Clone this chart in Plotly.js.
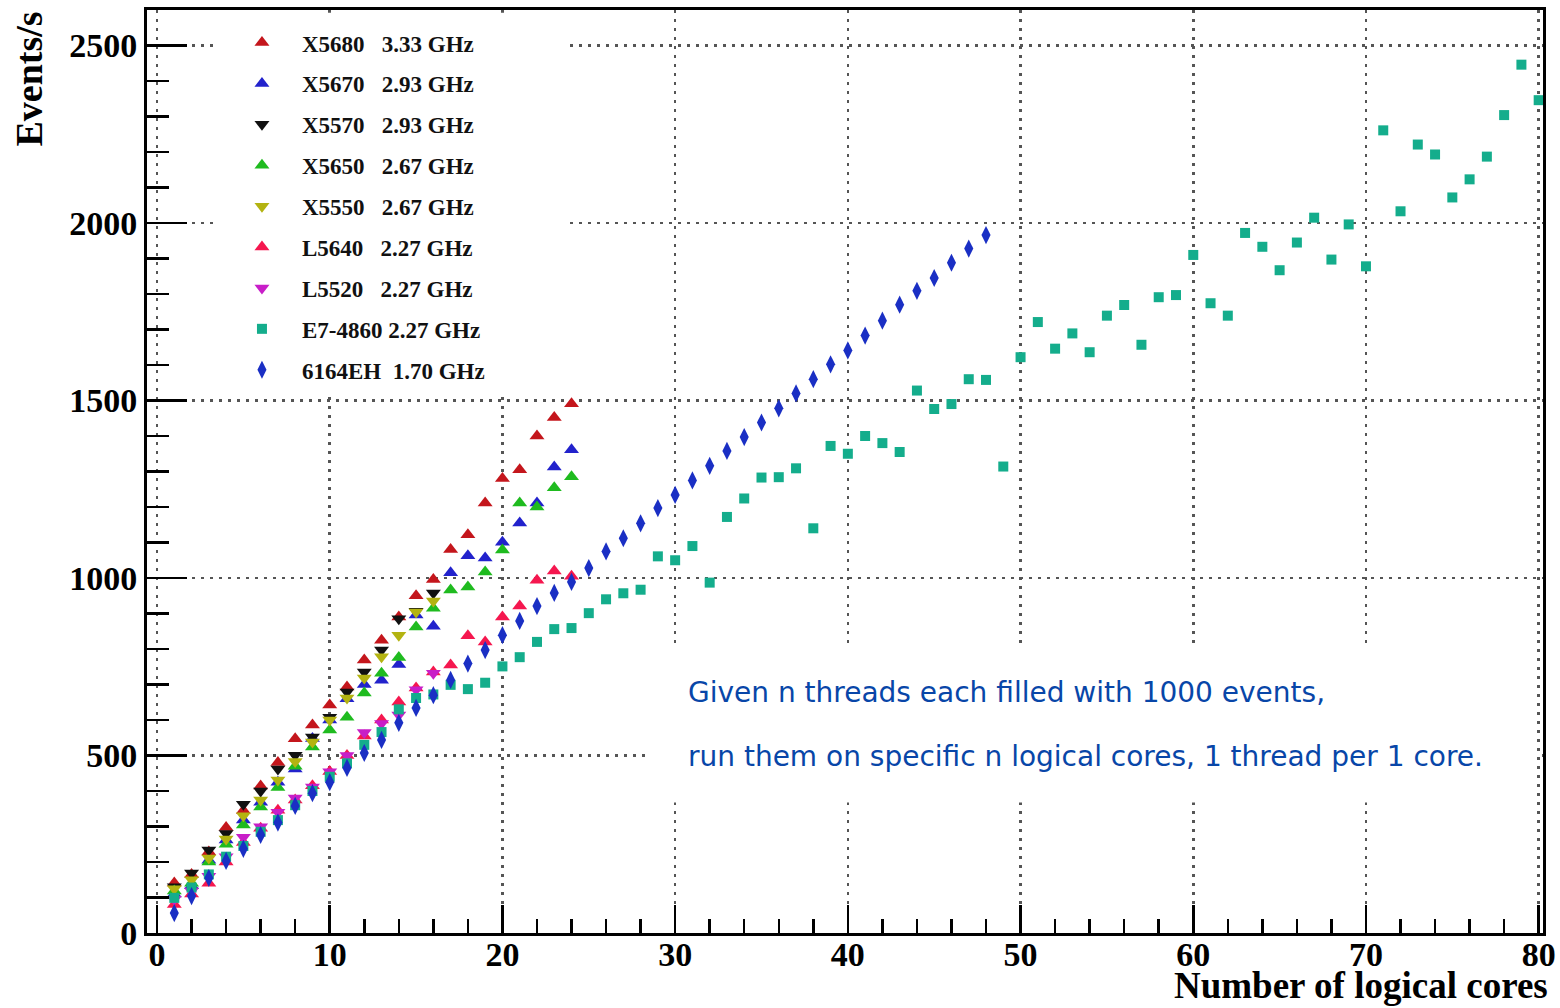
<!DOCTYPE html>
<html><head><meta charset="utf-8">
<script src="https://cdn.plot.ly/plotly-3.0.1.min.js"></script>
<style>html,body{margin:0;padding:0;background:#fff}#chart{width:1560px;height:1008px}</style>
</head><body><div id="chart"></div>
<script>
// ---- data (x = number of logical cores, y = events/s) ----
const cores16 = [1,2,3,4,5,6,7,8,9,10,11,12,13,14,15,16];
const cores24 = [1,2,3,4,5,6,7,8,9,10,11,12,13,14,15,16,17,18,19,20,21,22,23,24];
const cores48 = [1,2,3,4,5,6,7,8,9,10,11,12,13,14,15,16,17,18,19,20,21,22,23,24,
                 25,26,27,28,29,30,31,32,33,34,35,36,37,38,39,40,41,42,43,44,45,46,47,48];
const cores80 = [1,2,3,4,5,6,7,8,9,10,11,12,13,14,15,16,17,18,19,20,21,22,23,24,
                 25,26,27,28,29,30,31,32,33,34,35,36,37,38,39,40,41,42,43,44,45,46,47,48,
                 49,50,51,52,53,54,55,56,57,58,59,60,61,62,63,64,65,66,67,68,69,70,71,72,
                 73,74,75,76,77,78,79,80];

const seriesNames = [
  'X5680\u00a0\u00a0\u00a03.33 GHz',
  'X5670\u00a0\u00a0\u00a02.93 GHz',
  'X5570\u00a0\u00a0\u00a02.93 GHz',
  'X5650\u00a0\u00a0\u00a02.67 GHz',
  'X5550\u00a0\u00a0\u00a02.67 GHz',
  'L5640\u00a0\u00a0\u00a02.27 GHz',
  'L5520\u00a0\u00a0\u00a02.27 GHz',
  'E7-4860 2.27 GHz',
  '6164EH\u00a0\u00a01.70 GHz'
];

const x5680 = [141,165,228,297,345,414,480,547,586,642,693,769,825,890,950,996,
               1080,1122,1211,1280,1305,1400,1452,1491];
const x5670 = [110,133,205,262,318,368,425,462,548,600,660,700,712,756,896,864,
               1015,1063,1056,1101,1155,1211,1313,1361];
const x5570 = [130,169,234,280,363,400,462,501,552,608,679,735,797,885,906,958];
const x5650 = [118,140,200,250,304,355,410,470,524,572,608,676,732,776,862,915,
               966,975,1017,1079,1211,1200,1254,1285];
const x5550 = [125,150,211,265,330,375,431,483,538,600,662,718,778,839,904,935];
const l5640 = [80,110,140,200,255,295,346,375,415,455,500,555,600,651,690,735,
               755,837,820,890,921,994,1020,1005];
const l5520 = [95,118,160,215,270,299,340,380,411,454,500,565,590,614,685,732];
const e74860 = [99,128,165,215,245,285,318,360,400,440,478,530,566,630,662,672,
                699,687,705,751,777,820,856,859,901,940,957,967,1061,1050,1090,987,
                1172,1224,1283,1284,1309,1140,1372,1350,1400,1380,1355,1528,1476,1490,1560,1558,
                1314,1622,1721,1646,1689,1636,1739,1769,1657,1791,1797,1910,1774,1739,1972,1933,
                1867,1945,2015,1897,1996,1878,2261,2033,2221,2193,2072,2123,2187,2304,2446,2346];
const eh6164 = [56,104,155,203,237,276,311,358,394,425,465,507,544,592,634,670,
                713,759,797,839,879,921,958,989,1028,1075,1112,1154,1197,1234,1275,1316,
                1358,1397,1438,1478,1520,1560,1602,1641,1683,1725,1770,1809,1845,1888,1928,1966];

const xTickVals = [0,10,20,30,40,50,60,70,80];
const yTickVals = [0,500,1000,1500,2000,2500];
const noteLines = ['Given n threads each filled with 1000 events,',
                   'run them on specific n logical cores, 1 thread per 1 core.'];
const xTitle = 'Number of logical cores';
const yTitle = 'Events/s';

// ---- styling ----
const serif = 'Liberation Serif, Times New Roman, serif';
function tr(i, x, y, color, symbol, size) {
  return {
    type: 'scatter', mode: 'markers', name: seriesNames[i], legendgroup: 'g' + i,
    x: x, y: y,
    marker: {color: color, symbol: symbol, size: size, line: {width: 0}},
    hoverinfo: 'x+y+name'
  };
}
const traces = [
  tr(0, cores24, x5680, '#c4161c', 'triangle-up', 13),
  tr(1, cores24, x5670, '#2222cc', 'triangle-up', 13),
  tr(2, cores16, x5570, '#111111', 'triangle-down', 13),
  tr(3, cores24, x5650, '#1fbb1f', 'triangle-up', 13),
  tr(4, cores16, x5550, '#b3b311', 'triangle-down', 13),
  tr(5, cores24, l5640, '#f5174f', 'triangle-up', 13),
  tr(6, cores16, l5520, '#c81ec8', 'triangle-down', 13),
  tr(7, cores80, e74860, '#14ad8c', 'square', 10),
  tr(8, cores48, eh6164, '#1a2fc4', 'diamond-tall', 13)
];

const axisCommon = {
  showline: true, linecolor: '#000', linewidth: 3, mirror: true,
  ticks: 'inside', tickcolor: '#000', tickwidth: 2.5,
  showgrid: true, gridcolor: '#555', gridwidth: 2.5, griddash: '3px,6px',
  zeroline: false,
  tickfont: {family: serif, size: 34, color: '#000', weight: 'bold'}
};

const layout = {
  width: 1560, height: 1008,
  margin: {l: 147, r: 17, t: 10, b: 75},
  paper_bgcolor: '#fff', plot_bgcolor: '#fff',
  showlegend: true,
  legend: {
    x: 0.0537, y: 0.988, xanchor: 'left', yanchor: 'top',
    bgcolor: 'rgba(0,0,0,0)', borderwidth: 0,
    font: {family: serif, size: 23, color: '#111', weight: 'bold'},
    tracegroupgap: 8, itemwidth: 70, traceorder: 'grouped'
  },
  xaxis: Object.assign({}, axisCommon, {
    range: [-0.58, 80.25], tickmode: 'array', tickvals: xTickVals, ticklen: 28,
    ticklabelstandoff: -11,
    minor: {dtick: 2, ticklen: 14, ticks: 'inside', tickcolor: '#000', tickwidth: 2.5, showgrid: false}
  }),
  yaxis: Object.assign({}, axisCommon, {
    range: [0, 2600], tickmode: 'array', tickvals: yTickVals, ticklen: 40,
    minor: {dtick: 100, ticklen: 22, ticks: 'inside', tickcolor: '#000', tickwidth: 2.5, showgrid: false}
  }),
  shapes: [
    {type: 'rect', xref: 'paper', yref: 'paper', x0: 0.0487, x1: 0.2994, y0: 0.587, y1: 0.997,
     fillcolor: '#fff', line: {width: 0}, layer: 'above'},
    {type: 'rect', xref: 'paper', yref: 'paper', x0: 0.359, x1: 0.9957, y0: 0.1415, y1: 0.3142,
     fillcolor: '#fff', line: {width: 0}, layer: 'above'}
  ],
  annotations: [
    {text: noteLines[0], xref: 'paper', yref: 'paper', x: 0.386, y: 0.261, xanchor: 'left', yanchor: 'middle',
     showarrow: false, font: {family: 'DejaVu Sans, sans-serif', size: 28, color: '#0846a8'}},
    {text: noteLines[1], xref: 'paper', yref: 'paper', x: 0.386, y: 0.1907, xanchor: 'left', yanchor: 'middle',
     showarrow: false, font: {family: 'DejaVu Sans, sans-serif', size: 28, color: '#0846a8'}},
    {text: yTitle, xref: 'paper', yref: 'paper', x: -0.0852, y: 1.0, xanchor: 'center', yanchor: 'top',
     textangle: -90, showarrow: false, font: {family: serif, size: 38, color: '#000', weight: 'bold'}},
    {text: xTitle, xref: 'paper', yref: 'paper', x: 1.005, y: -0.0813, xanchor: 'right', yanchor: 'bottom',
     showarrow: false, font: {family: serif, size: 37, color: '#000', weight: 'bold'}}
  ]
};

Plotly.newPlot('chart', traces, layout, {displayModeBar: false, staticPlot: true});
</script></body></html>
